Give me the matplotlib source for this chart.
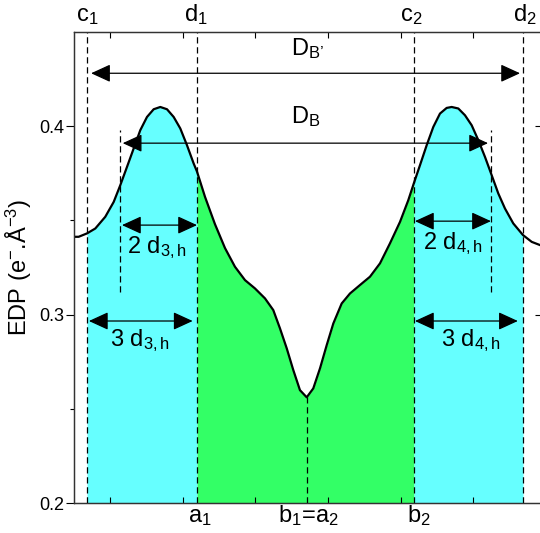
import numpy as np
import matplotlib.pyplot as plt

plt.rcParams['font.family'] = ['Liberation Sans', 'DejaVu Sans']
plt.rcParams['mathtext.fontset'] = 'custom'
plt.rcParams['mathtext.rm'] = 'Liberation Sans'
plt.rcParams['mathtext.it'] = 'Liberation Sans'

# electron density profile
x = np.array([5.05, 5.69, 6.84, 7.98, 9.35, 10.51, 11.42, 12.34, 13.26, 14.17,
              15.09, 16.01, 16.92, 17.84, 18.76, 19.67, 20.59, 21.51, 21.97,
              23.07, 24.44, 25.82, 27.19, 28.57, 29.94, 31.32, 32.46, 33.38,
              34.31, 35.21, 36.13, 37.06, 37.96, 38.89, 39.81, 40.72, 41.87,
              43.01, 44.39, 45.76, 47.14, 48.51, 49.89, 51.03, 51.82, 52.64,
              53.56, 54.47, 55.39, 56.31, 57.00, 57.91, 58.83, 59.75, 60.66,
              61.58, 62.50, 63.41, 64.33, 65.47, 66.81, 68.01, 69.15, 69.56])
edp = np.array([0.3413, 0.3413, 0.3431, 0.3457, 0.3519, 0.3598, 0.3687, 0.3784,
                0.3882, 0.3979, 0.4049, 0.4090, 0.4102, 0.4090, 0.4049, 0.3988,
                0.3899, 0.3802, 0.3759, 0.3625, 0.3480, 0.3353, 0.3254, 0.3183,
                0.3139, 0.3086, 0.3024, 0.2927, 0.2821, 0.2706, 0.2599, 0.2561,
                0.2608, 0.2715, 0.2838, 0.2953, 0.3059, 0.3112, 0.3157, 0.3201,
                0.3272, 0.3378, 0.3492, 0.3607, 0.3700, 0.3793, 0.3899, 0.3996,
                0.4067, 0.4097, 0.4102, 0.4094, 0.4058, 0.4005, 0.3926, 0.3837,
                0.3740, 0.3643, 0.3563, 0.3484, 0.3422, 0.3386, 0.3369, 0.3363])

# boundaries
c1, d1, b1, c2, d2 = 6.84, 21.97, 37.06, 51.82, 66.81
in_left, in_right = 11.38, 62.4
top_labels = [("c", "1", 5.28), ("d", "1", 20.2), ("c", "2", 49.9), ("d", "2", 65.4)]
bottom_labels = [("a$_\\mathregular{1}$", 20.7), ("b$_\\mathregular{1}$=a$_\\mathregular{2}$", 33.1),
                 ("b$_\\mathregular{2}$", 50.85)]

fig = plt.figure(figsize=(5.4, 5.33), dpi=100)
ax = fig.add_axes([74 / 540, 30 / 533, 469 / 540, 471 / 533])

cyan = '#66ffff'
green = '#33ff66'
ax.fill_between(x, 0.2, edp, where=(x >= c1) & (x <= d1), color=cyan, lw=0)
ax.fill_between(x, 0.2, edp, where=(x >= d1) & (x <= c2), color=green, lw=0)
ax.fill_between(x, 0.2, edp, where=(x >= c2) & (x <= d2), color=cyan, lw=0)
ax.plot(x, edp, color='black', lw=1.6, zorder=5, solid_joinstyle='round')

dash = dict(color='black', lw=0.9, ls=(0, (5, 3)), zorder=4)
for xv in [c1, d1, c2, d2]:
    ax.plot([xv, xv], [0.2, 0.45], **dash)
ax.plot([b1, b1], [0.2, 0.2561], **dash)
ax.plot([in_left, in_left], [0.312, 0.398], **dash)
ax.plot([in_right, in_right], [0.312, 0.398], **dash)


def arrow(x0, x1, y):
    ax.annotate('', xy=(x1, y), xytext=(x0, y),
                arrowprops=dict(arrowstyle='<|-|>,head_length=1.2,head_width=0.55',
                                mutation_scale=10, color='black', lw=0.9,
                                shrinkA=0, shrinkB=0), zorder=6)


arrow(7.4, 66.4, 0.4281)
arrow(11.75, 62.0, 0.391)
arrow(11.65, 21.97, 0.3475)
arrow(7.1, 21.37, 0.2966)
arrow(51.95, 62.4, 0.3496)
arrow(51.95, 66.1, 0.2966)

fs = 17
ax.text(34.9, 0.4377, "D$_\\mathregular{B\u2019}$", fontsize=fs)
ax.text(34.9, 0.4016, "D$_\\mathregular{B}$", fontsize=fs)
ax.text(12.3, 0.3326, "2 d$_\\mathregular{3,h}$", fontsize=fs)
ax.text(10.0, 0.2833, "3 d$_\\mathregular{3,h}$", fontsize=fs)
ax.text(53.05, 0.3348, "2 d$_\\mathregular{4,h}$", fontsize=fs)
ax.text(55.5, 0.2833, "3 d$_\\mathregular{4,h}$", fontsize=fs)

for letter, sub, xv in top_labels:
    ax.text(xv, 0.4557, letter + "$_\\mathregular{" + sub + "}$", fontsize=fs, clip_on=False)
for lab, xv in bottom_labels:
    ax.text(xv, 0.1899, lab, fontsize=fs, clip_on=False)

ax.set_xlim(5.05, 69.56)
ax.set_ylim(0.2, 0.45)
ax.set_xticks([10, 20, 30, 40, 50, 60])
ax.set_xticklabels([])
ax.set_yticks([0.2, 0.3, 0.4])
ax.set_yticklabels(['0.2', '0.3', '0.4'], fontsize=13)
ax.set_yticks([0.25, 0.35], minor=True)
ax.tick_params(axis='x', which='major', direction='in', top=True, length=4, width=0.8)
ax.tick_params(axis='y', which='major', direction='out', length=6, width=0.8, pad=1)
ax.tick_params(axis='y', which='minor', direction='out', length=3, width=0.8)
ax.set_ylabel("EDP (e$^{-}$.Å$^{-3}$)", fontsize=17, labelpad=4)

# inward ticks on the right side
ax2 = ax.twinx()
ax2.set_ylim(0.2, 0.45)
ax2.set_yticks([0.3, 0.4])
ax2.set_yticklabels([])
ax2.tick_params(axis='y', direction='in', length=6, width=0.8)

for a in (ax, ax2):
    for s in a.spines.values():
        s.set_linewidth(0.9)
        s.set_color('#333333')

fig.savefig('out.png', dpi=100)
